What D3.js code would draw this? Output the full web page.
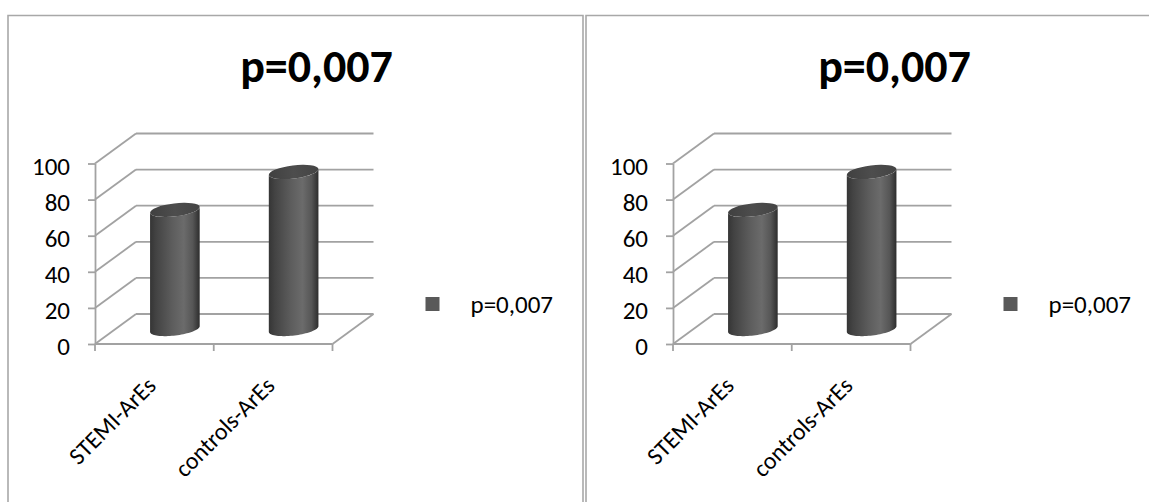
<!DOCTYPE html>
<html>
<head>
<meta charset="utf-8">
<script src="https://cdn.jsdelivr.net/npm/d3@7"></script>
<style>
  body { margin: 0; background: #fff; }
  svg { display: block; }
</style>
</head>
<body>
<svg id="chart" width="1149" height="502"></svg>
<script>
// ---- data ----
const categories = ["STEMI-ArEs", "controls-ArEs"];
const values = [66, 87];
const yTickValues = [0, 20, 40, 60, 80, 100];
const seriesLabel = "p=0,007";
const chartTitle = "p=0,007";

// ---- setup ----
const W = 1149, H = 502;
const FONT = "Carlito, Calibri, Lato, sans-serif";
const GRID = "#a2a2a2";
const svg = d3.select("#chart");
svg.append("rect").attr("width", W).attr("height", H).attr("fill", "#fff");

// shading for the cylinder body and its top cap
const defs = svg.append("defs");
const bodyGrad = defs.append("linearGradient").attr("id", "cylBody")
  .attr("x1", 0).attr("x2", 1).attr("y1", 0).attr("y2", 0);
[[0, "#353535"], [0.12, "#434343"], [0.45, "#5d5d5d"], [0.68, "#6b6b6b"], [0.86, "#565656"], [1, "#2d2d2d"]]
  .forEach(([o, c]) => bodyGrad.append("stop").attr("offset", o).attr("stop-color", c));
const topGrad = defs.append("linearGradient").attr("id", "cylTop")
  .attr("x1", 0).attr("x2", 1).attr("y1", 0).attr("y2", 0);
[[0, "#404040"], [0.5, "#4d4d4d"], [1, "#444444"]]
  .forEach(([o, c]) => topGrad.append("stop").attr("offset", o).attr("stop-color", c));

// point on a tilted ellipse
function ellPt(cx, cy, rx, ry, th, t) {
  return [cx + rx * Math.cos(t) * Math.cos(th) - ry * Math.sin(t) * Math.sin(th),
          cy + rx * Math.cos(t) * Math.sin(th) + ry * Math.sin(t) * Math.cos(th)];
}

// one framed 3D cylinder chart
function drawPanel(frameX, frameW) {
  const g = svg.append("g").attr("transform", `translate(${frameX},0)`);

  // chart frame
  g.append("path")
    .attr("d", `M0,${H + 2}V15.5H${frameW}V${H + 2}`)
    .attr("fill", "none").attr("stroke", "#a8a8a8").attr("stroke-width", 1.6);

  const x = d3.scaleBand().domain(categories).range([87, 324.5]);
  const y = d3.scaleLinear().domain([0, 100]).range([344, 163.5]);
  const DX = 41, DY = -30;
  const x0 = x.range()[0], x1 = x.range()[1];

  // title
  g.append("text")
    .attr("x", x(categories[1]) + 102.75).attr("y", 82)
    .attr("text-anchor", "middle")
    .attr("font-family", FONT).attr("font-weight", "bold").attr("font-size", 46)
    .attr("fill", "#000")
    .text(chartTitle);

  const walls = g.append("g").attr("fill", "none").attr("stroke", GRID).attr("stroke-width", 1.8);
  // side wall diagonals and back wall gridlines
  yTickValues.forEach(t => {
    walls.append("line")
      .attr("x1", x0).attr("y1", y(t)).attr("x2", x0 + DX).attr("y2", y(t) + DY);
    walls.append("line")
      .attr("x1", x0 + DX).attr("y1", y(t) + DY).attr("x2", x1 + DX).attr("y2", y(t) + DY);
  });
  // floor front edge and right edge
  walls.append("line").attr("x1", x0).attr("y1", y(0)).attr("x2", x1).attr("y2", y(0));
  walls.append("line").attr("x1", x1).attr("y1", y(0)).attr("x2", x1 + DX).attr("y2", y(0) + DY);
  // category tick marks
  const edges = categories.map(c => x(c)).concat([x1]);
  edges.forEach(e => {
    walls.append("line").attr("x1", e).attr("y1", y(0)).attr("x2", e).attr("y2", y(0) + 7);
  });

  // value axis
  const yAxis = g.append("g").attr("transform", `translate(${x0},0)`)
    .call(d3.axisLeft(y).tickValues(yTickValues).tickSize(7).tickSizeOuter(0).tickPadding(18));
  yAxis.select(".domain").attr("stroke", GRID).attr("stroke-width", 1.8);
  yAxis.selectAll(".tick line").attr("stroke", GRID).attr("stroke-width", 1.8);
  yAxis.selectAll(".tick text")
    .attr("font-family", FONT).attr("font-size", 25).attr("fill", "#000")
    .attr("dy", "0.42em");

  // cylinders, standing at mid depth of the floor
  const rx = 25, ry = 6.5, th = -7 * Math.PI / 180;
  categories.forEach((c, i) => {
    const cx = x(c) + x.bandwidth() / 2 + DX / 2;
    const yb = y(0) + DY / 2;
    const yt = y(values[i]) + DY / 2;
    const pts = [];
    const N = 40;
    // bottom front arc (left -> right through the lower half)
    for (let k = 0; k <= N; k++) pts.push(ellPt(cx, yb, rx, ry, th, Math.PI - Math.PI * k / N));
    // top front arc (right -> left)
    for (let k = 0; k <= N; k++) pts.push(ellPt(cx, yt, rx, ry, th, Math.PI * k / N));
    g.append("path")
      .attr("d", "M" + pts.map(p => p.join(",")).join("L") + "Z")
      .attr("fill", "url(#cylBody)");
    g.append("ellipse")
      .attr("cx", cx).attr("cy", yt).attr("rx", rx).attr("ry", ry)
      .attr("transform", `rotate(${th * 180 / Math.PI},${cx},${yt})`)
      .attr("fill", "url(#cylTop)");
  });

  // category labels, rotated
  categories.forEach(c => {
    const cx = x(c) + x.bandwidth() / 2;
    g.append("text")
      .attr("transform", `translate(${cx + 3},${y(0) + 43}) rotate(-45)`)
      .attr("text-anchor", "end")
      .attr("font-family", FONT).attr("font-size", 24).attr("fill", "#000")
      .text(c);
  });

  // legend
  const lg = g.append("g").attr("transform", `translate(${x1 + 93},304)`);
  lg.append("rect").attr("x", 0).attr("y", -7).attr("width", 14).attr("height", 14).attr("fill", "#595959");
  lg.append("text").attr("x", 45).attr("y", 0).attr("dy", "0.35em")
    .attr("font-family", FONT).attr("font-size", 25).attr("fill", "#000")
    .text(seriesLabel);
}

drawPanel(8, 575);
drawPanel(586, 575);
</script>
</body>
</html>
